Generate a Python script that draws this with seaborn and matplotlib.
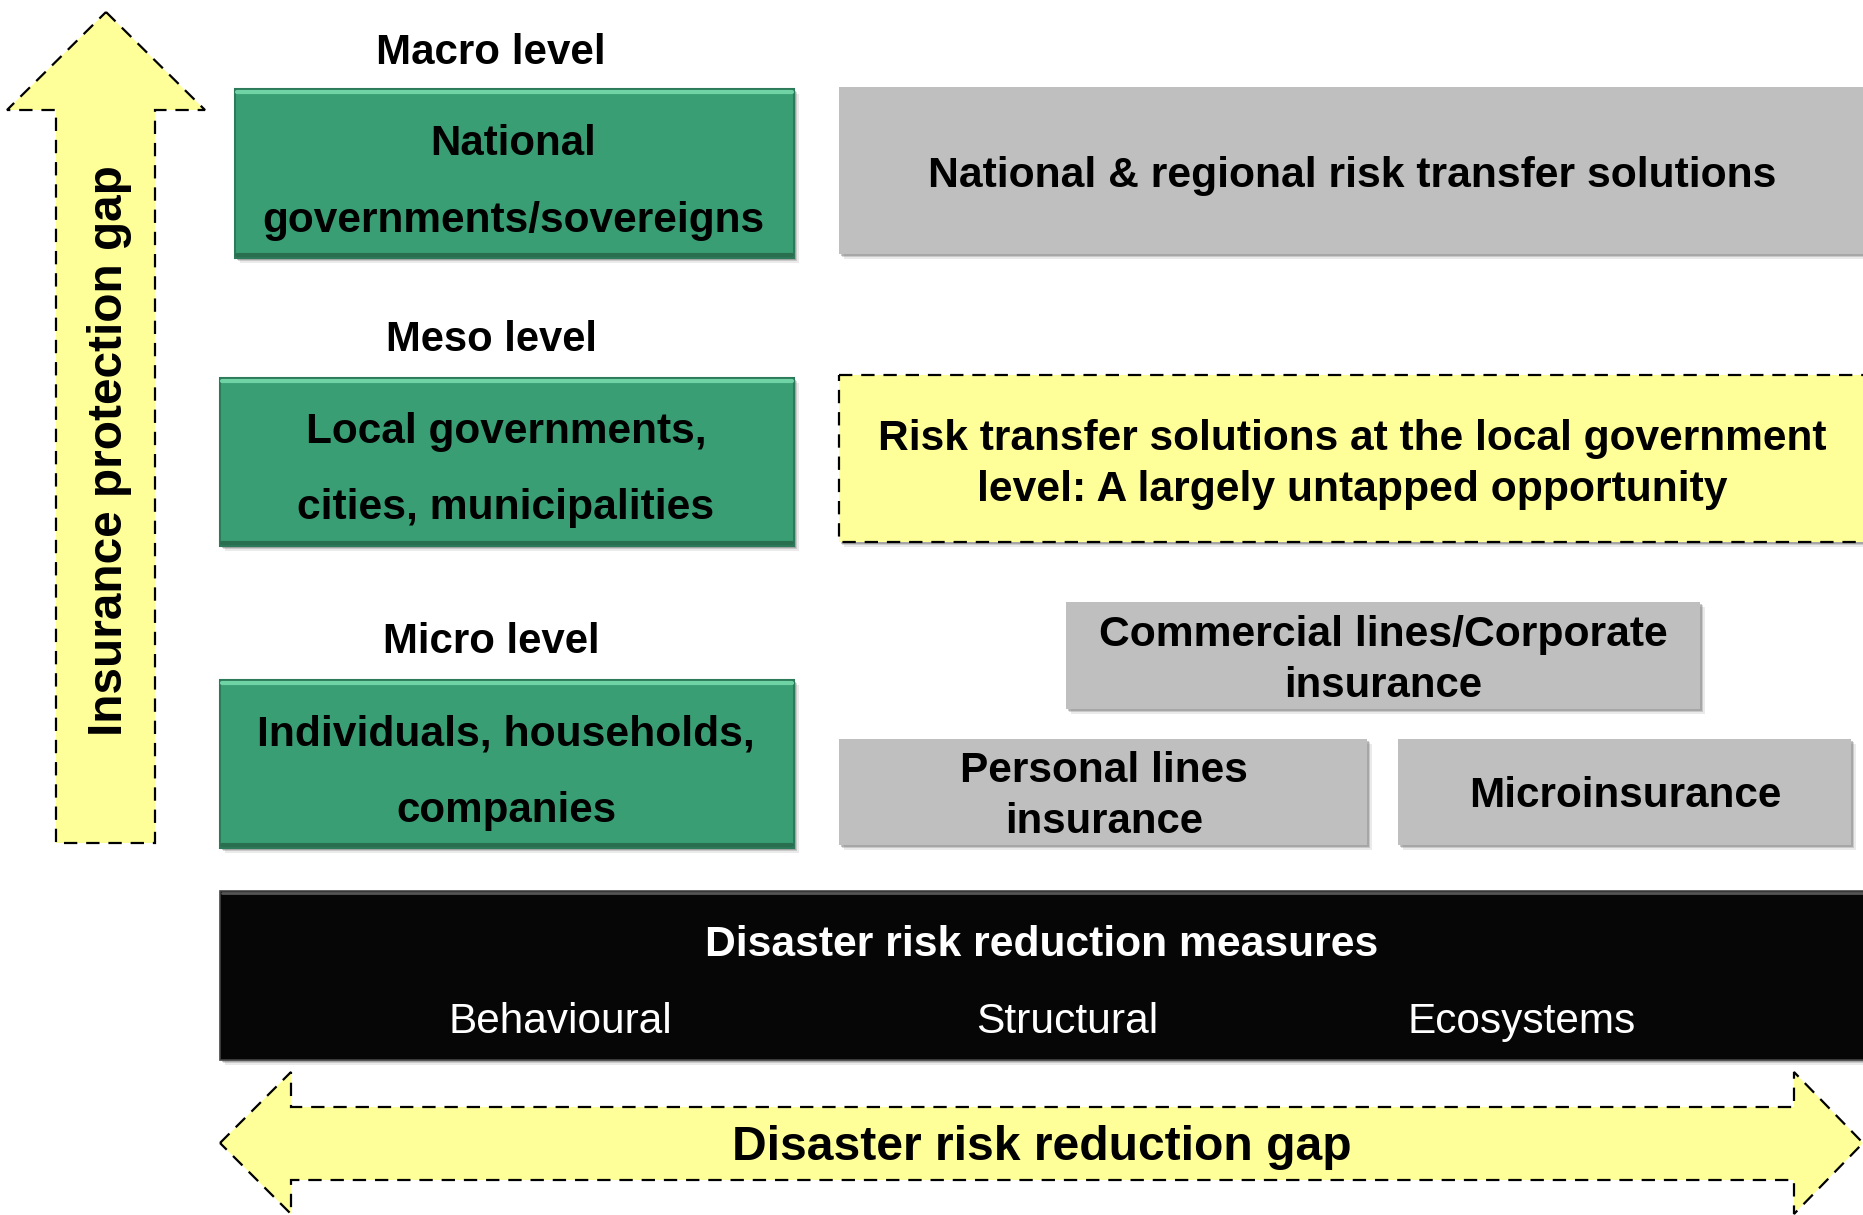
import matplotlib
matplotlib.use("Agg")
import matplotlib.pyplot as plt
from matplotlib.patches import Rectangle, Polygon
import seaborn as sns

# ---- content ----
level_labels = ["Macro level", "Meso level", "Micro level"]
green_texts = [["National", "governments/sovereigns"],
               ["Local governments,", "cities, municipalities"],
               ["Individuals, households,", "companies"]]
macro_solution = ["National & regional risk transfer solutions"]
meso_solution = ["Risk transfer solutions at the local government",
                 "level: A largely untapped opportunity"]
commercial_text = ["Commercial lines/Corporate", "insurance"]
personal_text = ["Personal lines", "insurance"]
micro_text = ["Microinsurance"]
drr_title = "Disaster risk reduction measures"
drr_items = ["Behavioural", "Structural", "Ecosystems"]
vertical_gap = "Insurance protection gap"
horizontal_gap = "Disaster risk reduction gap"

# ---- style ----
GREEN = "#3a9e74"
GREEN_EDGE = "#2c7a59"
GREY = "#bfbfbf"
YELLOW = "#ffff99"
BLACK = "#060606"
W, H = 1863, 1215

sns.set_theme(style="white")
plt.rcParams["font.family"] = ["Liberation Sans Narrow", "Liberation Sans", "DejaVu Sans"]

fig = plt.figure(figsize=(W / 100, H / 100), dpi=100)
ax = fig.add_axes([0, 0, 1, 1])
ax.set_xlim(0, W)
ax.set_ylim(H, 0)
ax.axis("off")
sns.despine(ax=ax, left=True, bottom=True)
renderer = fig.canvas.get_renderer()


def fit_text(x, y, s, width, rotation=0, weight="bold", color="black"):
    if not rotation:
        y = y + 4
    t = ax.text(x, y, s, fontsize=20, ha="center", va="center", rotation=rotation,
                fontweight=weight, color=color, zorder=10)
    bb = t.get_window_extent(renderer)
    w = bb.height if rotation else bb.width
    t.set_fontsize(20 * width / w)
    return t


def box(x0, x1, y0, y1, face, edge=None, lw=0, ls="-", shadow=True, z=2):
    if shadow:
        for k, a in ((5, 0.12), (3, 0.22), (1.5, 0.3)):
            ax.add_patch(Rectangle((x0 + k, y0 + k), x1 - x0, y1 - y0,
                                   facecolor="#555555", edgecolor="none", alpha=a, zorder=z - 1))
    ax.add_patch(Rectangle((x0, y0), x1 - x0, y1 - y0, facecolor=face,
                           edgecolor=edge if edge else "none", lw=lw, linestyle=ls, zorder=z))


def green_box(x0, x1, y0, y1):
    box(x0, x1, y0, y1, GREEN, GREEN_EDGE, 1.5)
    ax.plot([x0 + 2, x1 - 2], [y0 + 3, y0 + 3], color="#6fd3a6", lw=3, zorder=3)
    ax.plot([x0 + 2, x1 - 2], [y1 - 3, y1 - 3], color="#2a6e50", lw=3, zorder=3)


dash = (0, (6, 4))

# ---- vertical arrow ----
up = Polygon([(106, 12), (205, 110), (155, 110), (155, 843), (56, 843), (56, 110), (7, 110)],
             closed=True, facecolor=YELLOW, edgecolor="black", lw=1.6, linestyle=dash, zorder=2)
ax.add_patch(up)
fit_text(109, 451, vertical_gap, 570, rotation=90)

# ---- level labels ----
for (lbl, y, w) in zip(level_labels, [49, 336, 638], [229, 211, 217]):
    fit_text(491, y, lbl, w)

# ---- green boxes ----
green_geom = [(235, 794, 89, 258), (220, 794, 378, 546), (220, 794, 680, 848)]
green_text_pos = [(513, [140, 217], [165, 501]),
                  (506, [428, 504], [400, 416]),
                  (506, [731, 807], [497, 220])]
for (g, tp, lines) in zip(green_geom, green_text_pos, green_texts):
    green_box(*g)
    cx, ys, ws = tp
    for s, y, w in zip(lines, ys, ws):
        fit_text(cx, y, s, w)

# ---- right side boxes ----
box(839, 1875, 87, 254, GREY)
fit_text(1352, 172, macro_solution[0], 847)

box(839, 1875, 375, 542, YELLOW, "black", 1.6, dash)
for s, y, w in zip(meso_solution, [435, 486], [949, 748]):
    fit_text(1352, y, s, w)

box(1066, 1700, 602, 709, GREY)
for s, y, w in zip(commercial_text, [631, 682], [567, 198]):
    fit_text(1383, y, s, w)

box(839, 1367, 739, 845, GREY)
for s, y, w in zip(personal_text, [767, 818], [287, 198]):
    fit_text(1104, y, s, w)

box(1398, 1851, 739, 845, GREY)
fit_text(1625, 792, micro_text[0], 312)

# ---- black DRR bar ----
box(220, 1875, 891, 1060, BLACK, "#444444", 1.2)
ax.plot([222, 1875], [893, 893], color="#555555", lw=2, zorder=3)
fit_text(1042, 941, drr_title, 671, color="white")
for s, x, w in zip(drr_items, [560, 1067, 1522], [223, 182, 228]):
    fit_text(x, 1018, s, w, weight="normal", color="white")

# ---- horizontal double arrow ----
harrow = Polygon([(220, 1143), (291, 1072), (291, 1107), (1794, 1107), (1794, 1072),
                  (1863, 1143), (1794, 1214), (1794, 1180), (291, 1180), (291, 1214)],
                 closed=True, facecolor=YELLOW, edgecolor="black", lw=1.6, linestyle=dash, zorder=2)
ax.add_patch(harrow)
fit_text(1042, 1144, horizontal_gap, 618)

fig.savefig("out.png", dpi=100)
